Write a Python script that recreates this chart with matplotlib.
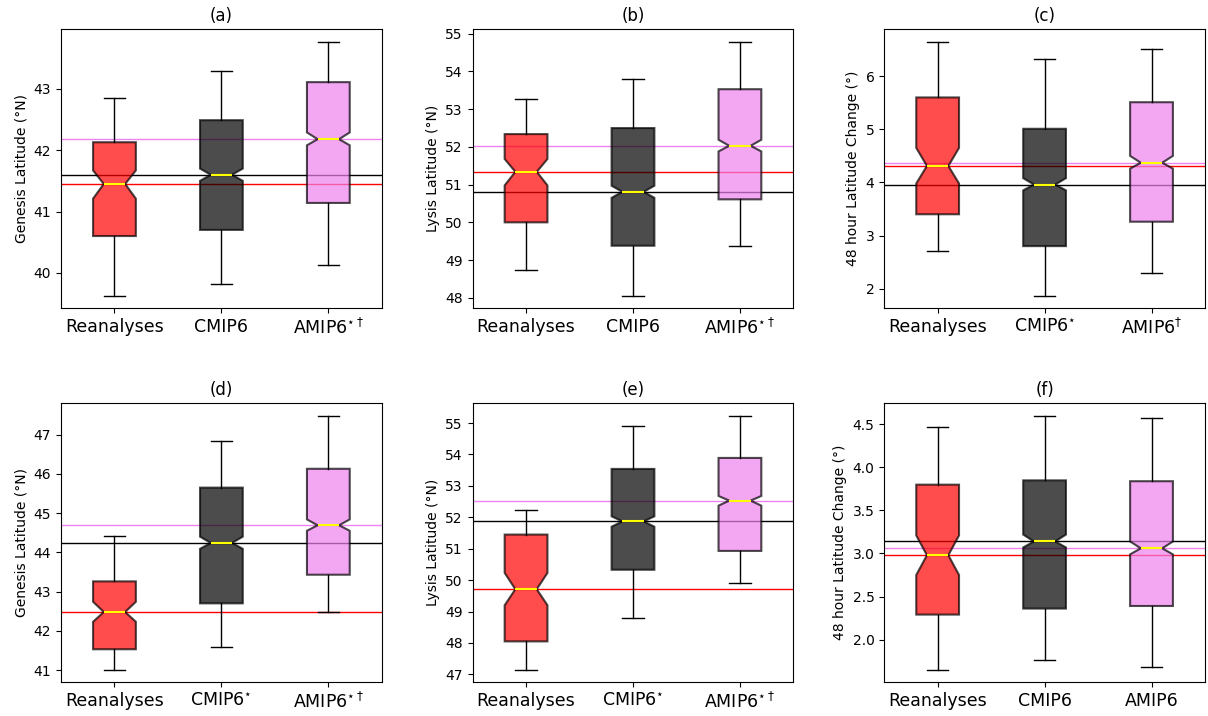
import matplotlib
matplotlib.use("Agg")
import matplotlib.pyplot as plt

groups = ["Reanalyses", "CMIP6", "AMIP6"]
box_colors = ["red", "black", "violet"]

titles = ["(a)", "(b)", "(c)", "(d)", "(e)", "(f)"]
ylabels = ["Genesis Latitude (°N)", "Lysis Latitude (°N)", "48 hour Latitude Change (°)",
           "Genesis Latitude (°N)", "Lysis Latitude (°N)", "48 hour Latitude Change (°)"]
xticklabels = [
    ["Reanalyses", "CMIP6", r"AMIP6$^{\star\dagger}$"],
    ["Reanalyses", "CMIP6", r"AMIP6$^{\star\dagger}$"],
    ["Reanalyses", r"CMIP6$^{\star}$", r"AMIP6$^{\dagger}$"],
    ["Reanalyses", r"CMIP6$^{\star}$", r"AMIP6$^{\star\dagger}$"],
    ["Reanalyses", r"CMIP6$^{\star}$", r"AMIP6$^{\star\dagger}$"],
    ["Reanalyses", "CMIP6", "AMIP6"],
]

# per panel: [Reanalyses, CMIP6, AMIP6]
whislo = [[39.63, 39.81, 40.13], [48.73, 48.06, 49.37], [2.70, 1.87, 2.29],
          [41.01, 41.59, 42.48], [47.15, 48.81, 49.90], [1.65, 1.76, 1.68]]
q1 = [[40.60, 40.70, 41.14], [50.00, 49.38, 50.61], [3.40, 2.80, 3.26],
      [41.53, 42.70, 43.43], [48.05, 50.33, 50.93], [2.29, 2.36, 2.39]]
med = [[41.45, 41.60, 42.18], [51.34, 50.81, 52.03], [4.31, 3.96, 4.37],
       [42.48, 44.24, 44.69], [49.71, 51.87, 52.53], [2.98, 3.14, 3.06]]
q3 = [[42.13, 42.49, 43.11], [52.34, 52.50, 53.53], [5.60, 5.01, 5.51],
      [43.26, 45.65, 46.13], [51.45, 53.54, 53.89], [3.80, 3.85, 3.84]]
whishi = [[42.85, 43.29, 43.77], [53.27, 53.79, 54.79], [6.65, 6.33, 6.52],
          [44.41, 46.84, 47.48], [52.22, 54.92, 55.23], [4.47, 4.60, 4.58]]
cilo = [[41.21, 41.50, 42.08], [50.98, 50.65, 51.88], [3.98, 3.85, 4.26],
        [42.23, 44.09, 44.55], [49.20, 51.70, 52.37], [2.75, 3.07, 2.99]]
cihi = [[41.67, 41.70, 42.29], [51.68, 50.97, 52.19], [4.65, 4.08, 4.50],
        [42.74, 44.40, 44.84], [50.23, 52.03, 52.68], [3.21, 3.22, 3.14]]

fig, axes = plt.subplots(2, 3, figsize=(12.08, 7.16), dpi=100)
fig.subplots_adjust(left=0.0505, right=0.9975, top=0.9595, bottom=0.047,
                    wspace=0.283, hspace=0.34)

for p, ax in enumerate(axes.flat):
    stats = []
    for g in range(3):
        stats.append(dict(med=med[p][g], q1=q1[p][g], q3=q3[p][g],
                          whislo=whislo[p][g], whishi=whishi[p][g],
                          cilo=cilo[p][g], cihi=cihi[p][g], fliers=[]))
    for g in range(3):
        ax.axhline(med[p][g], color=box_colors[g], lw=1.0, zorder=0.9)
    bp = ax.bxp(stats, positions=[1, 2, 3], widths=0.4, shownotches=True,
                patch_artist=True, showfliers=False,
                boxprops=dict(linewidth=1.5),
                medianprops=dict(color="yellow", lw=1.5))
    for patch, c in zip(bp["boxes"], box_colors):
        patch.set_facecolor(c)
        patch.set_edgecolor("black")
        patch.set_alpha(0.7)
    ax.set_xticks([1, 2, 3])
    ax.set_xticklabels(xticklabels[p], fontsize=12.5)
    ax.tick_params(axis="y", labelsize=10)
    ax.set_ylabel(ylabels[p], fontsize=10)
    ax.set_title(titles[p], fontsize=12)

fig.savefig("out.png", dpi=100)
